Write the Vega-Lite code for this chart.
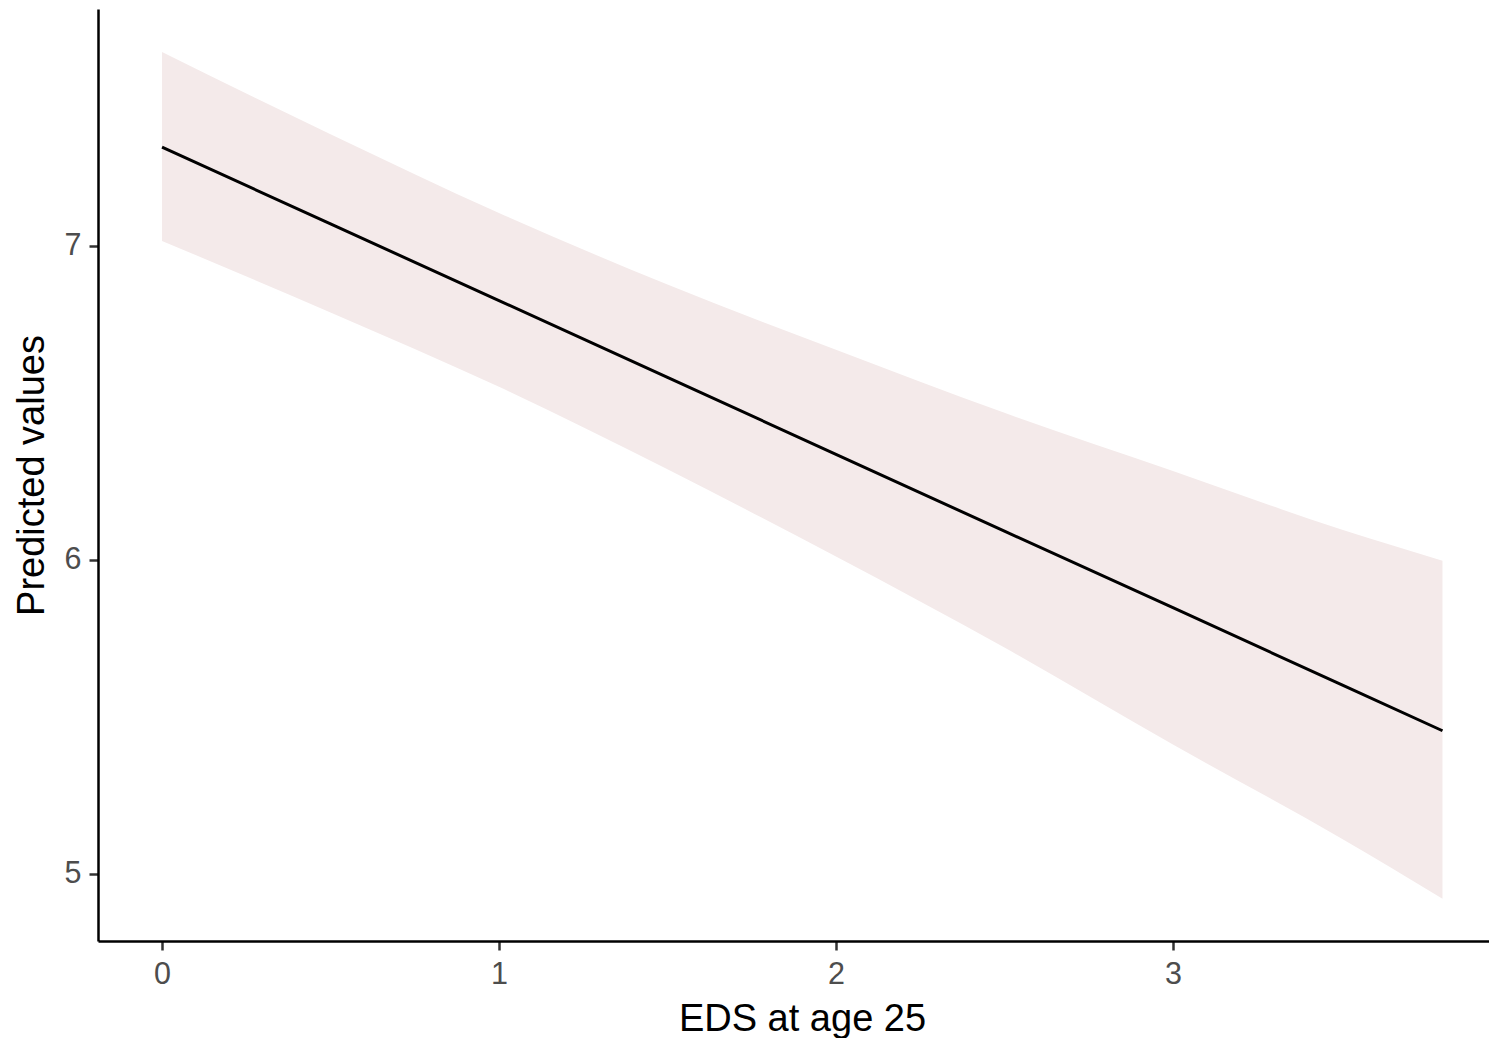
{
  "$schema": "https://vega.github.io/schema/vega-lite/v6.json",
  "width": 1391,
  "height": 932,
  "autosize": {"type": "none"},
  "padding": {"left": 98, "top": 9, "right": 0, "bottom": 97},
  "background": "white",
  "config": {
    "view": {"stroke": null},
    "font": "Liberation Sans",
    "axis": {
      "grid": false,
      "domainColor": "#000000",
      "domainWidth": 2.5,
      "tickColor": "#333333",
      "tickWidth": 2.5,
      "tickSize": 9,
      "labelColor": "#4d4d4d",
      "labelFont": "Liberation Sans",
      "labelFontSize": 30.5,
      "titleFont": "Liberation Sans",
      "titleFontSize": 38,
      "titleFontWeight": "normal",
      "titleColor": "#000000"
    }
  },
  "data": {
    "values": [
      {"x": 0, "fit": 7.315, "lower": 7.016, "upper": 7.618},
      {"x": 0.5, "fit": 7.070, "lower": 6.788, "upper": 7.356},
      {"x": 1, "fit": 6.826, "lower": 6.551, "upper": 7.105},
      {"x": 1.5, "fit": 6.581, "lower": 6.288, "upper": 6.877},
      {"x": 2, "fit": 6.336, "lower": 6.010, "upper": 6.669},
      {"x": 2.5, "fit": 6.091, "lower": 5.720, "upper": 6.468},
      {"x": 3, "fit": 5.847, "lower": 5.411, "upper": 6.283},
      {"x": 3.5, "fit": 5.602, "lower": 5.112, "upper": 6.096},
      {"x": 3.8, "fit": 5.455, "lower": 4.920, "upper": 5.997}
    ]
  },
  "encoding": {
    "x": {
      "field": "x",
      "type": "quantitative",
      "scale": {"domain": [-0.19, 3.938], "nice": false, "zero": false},
      "axis": {
        "title": "EDS at age 25",
        "values": [0, 1, 2, 3],
        "format": "d",
        "labelBaseline": "alphabetic",
        "labelPadding": 33,
        "titleBaseline": "alphabetic",
        "titleX": 704,
        "titleY": 89,
        "titleAnchor": "middle"
      }
    }
  },
  "layer": [
    {
      "mark": {"type": "area", "color": "#f4eaea", "opacity": 1, "interpolate": "monotone"},
      "encoding": {
        "y": {
          "field": "lower",
          "type": "quantitative",
          "scale": {"domain": [4.785, 7.755], "nice": false, "zero": false},
          "axis": {
            "title": "Predicted values",
            "values": [5, 6, 7],
            "format": "d",
            "labelPadding": 8,
            "titleAngle": -90,
            "titleBaseline": "alphabetic",
            "titleX": -55,
            "titleY": 466,
            "titleAnchor": "middle"
          }
        },
        "y2": {"field": "upper"}
      }
    },
    {
      "mark": {"type": "line", "color": "#000000", "strokeWidth": 3},
      "encoding": {
        "y": {"field": "fit", "type": "quantitative"}
      }
    }
  ]
}
